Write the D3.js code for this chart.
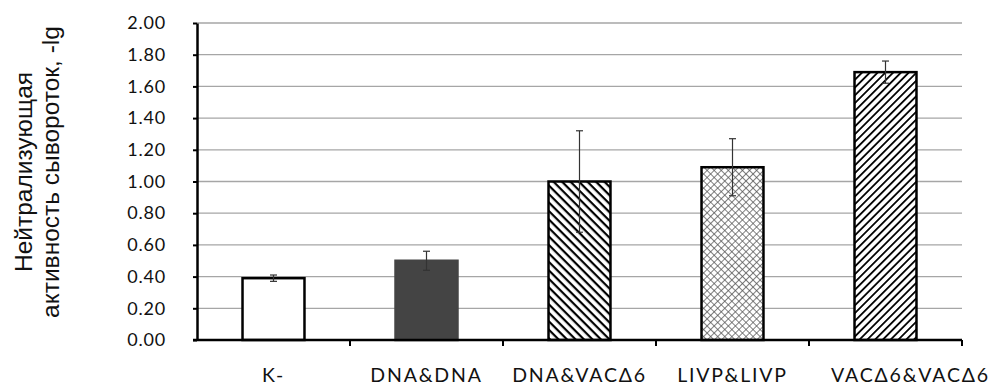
<!DOCTYPE html>
<html>
<head>
<meta charset="utf-8">
<script src="https://cdn.jsdelivr.net/npm/d3@7"></script>
<style>
  body { margin: 0; background: #fff; }
  svg { display: block; }
</style>
</head>
<body>
<svg width="996" height="385"></svg>
<script>
// data
var categories = ["K-", "DNA&DNA", "DNA&VACΔ6", "LIVP&LIVP", "VACΔ6&VACΔ6"];
var means = [0.39, 0.50, 1.00, 1.09, 1.69];
var errors = [0.02, 0.06, 0.32, 0.18, 0.07];
var yTicks = [0, 0.2, 0.4, 0.6, 0.8, 1.0, 1.2, 1.4, 1.6, 1.8, 2.0];
var fills = ["white", "#444444", "url(#hatchBack)", "url(#cross)", "url(#hatchFwd)"];

var svg = d3.select("svg");

// plot area
var x0 = 197, x1 = 962, yTop = 23, yBottom = 340;

var x = d3.scaleBand()
    .domain(categories)
    .range([x0, x1])
    .paddingInner(0.595)
    .paddingOuter(0.2975);

var y = d3.scaleLinear()
    .domain([0, 2])
    .range([yBottom, yTop]);

//patterns
var defs = svg.append("defs");

var pb = defs.append("pattern")
    .attr("id", "hatchBack")
    .attr("patternUnits", "userSpaceOnUse")
    .attr("width", 6).attr("height", 6)
    .attr("patternTransform", "rotate(45)");
pb.append("rect").attr("width", 6).attr("height", 6).attr("fill", "white");
pb.append("line").attr("x1", 0).attr("y1", 0).attr("x2", 6).attr("y2", 0)
    .attr("stroke", "black").attr("stroke-width", 4.4);

var pf = defs.append("pattern")
    .attr("id", "hatchFwd")
    .attr("patternUnits", "userSpaceOnUse")
    .attr("width", 5.5).attr("height", 5.5)
    .attr("patternTransform", "rotate(-45)");
pf.append("rect").attr("width", 5.5).attr("height", 5.5).attr("fill", "white");
pf.append("line").attr("x1", 0).attr("y1", 0).attr("x2", 5.5).attr("y2", 0)
    .attr("stroke", "black").attr("stroke-width", 3.6);

var pc = defs.append("pattern")
    .attr("id", "cross")
    .attr("patternUnits", "userSpaceOnUse")
    .attr("width", 5).attr("height", 5)
    .attr("patternTransform", "rotate(45)");
pc.append("rect").attr("width", 5).attr("height", 5).attr("fill", "white");
pc.append("line").attr("x1", 0).attr("y1", 0).attr("x2", 5).attr("y2", 0)
    .attr("stroke", "#555").attr("stroke-width", 1.5);
pc.append("line").attr("x1", 0).attr("y1", 0).attr("x2", 0).attr("y2", 5)
    .attr("stroke", "#555").attr("stroke-width", 1.5);

// gridlines
svg.append("g")
    .selectAll("line")
    .data(yTicks.slice(1))
    .enter().append("line")
    .attr("x1", x0).attr("x2", x1)
    .attr("y1", function (d) { return y(d); })
    .attr("y2", function (d) { return y(d); })
    .attr("stroke", "#a6a6a6")
    .attr("stroke-width", 1.3);

// bars
svg.append("g")
    .selectAll("rect")
    .data(categories)
    .enter().append("rect")
    .attr("x", function (d) { return x(d); })
    .attr("y", function (d, i) { return y(means[i]); })
    .attr("width", x.bandwidth())
    .attr("height", function (d, i) { return yBottom - y(means[i]); })
    .attr("fill", function (d, i) { return fills[i]; })
    .attr("stroke", function (d, i) { return i == 1 ? "#444444" : "black"; })
    .attr("stroke-width", 2.5);

// error bars
var eb = svg.append("g")
    .attr("stroke", "#333")
    .attr("stroke-width", 1.2);
categories.forEach(function (c, i) {
    var cx = x(c) + x.bandwidth() / 2;
    eb.append("line").attr("x1", cx).attr("x2", cx)
        .attr("y1", y(means[i] + errors[i])).attr("y2", y(means[i] - errors[i]));
    eb.append("line").attr("x1", cx - 3.5).attr("x2", cx + 3.5)
        .attr("y1", y(means[i] + errors[i])).attr("y2", y(means[i] + errors[i]));
    eb.append("line").attr("x1", cx - 3.5).attr("x2", cx + 3.5)
        .attr("y1", y(means[i] - errors[i])).attr("y2", y(means[i] - errors[i]));
});

// y axis
var yAxis = svg.append("g")
    .attr("transform", "translate(" + x0 + ",0)")
    .call(d3.axisLeft(y).tickValues(yTicks).tickFormat(d3.format(".2f")).tickSize(4).tickSizeOuter(0));
yAxis.select(".domain").attr("stroke", "black").attr("stroke-width", 2.5);
yAxis.selectAll(".tick line").attr("stroke", "black").attr("stroke-width", 2);
yAxis.selectAll(".tick text")
    .attr("x", -31)
    .style("font-family", "Lato, sans-serif")
    .style("font-size", "18px")
    .style("letter-spacing", "0.8px")
    .attr("fill", "#111");

// x axis
svg.append("line")
    .attr("x1", x0 - 4).attr("x2", x1)
    .attr("y1", yBottom).attr("y2", yBottom)
    .attr("stroke", "black").attr("stroke-width", 2.5);
var bounds = d3.range(categories.length + 1).map(function (i) { return x0 + i * x.step(); });
svg.append("g")
    .selectAll("line")
    .data(bounds.slice(1))
    .enter().append("line")
    .attr("x1", function (d) { return d; })
    .attr("x2", function (d) { return d; })
    .attr("y1", yBottom).attr("y2", yBottom + 6)
    .attr("stroke", "black").attr("stroke-width", 2);

svg.append("g")
    .selectAll("text")
    .data(categories)
    .enter().append("text")
    .attr("x", function (d) { return x(d) + x.bandwidth() / 2; })
    .attr("dx", function (d, i) { return i == categories.length - 1 ? 25 : 0; })
    .attr("y", 382)
    .attr("text-anchor", "middle")
    .style("font-family", "Lato, sans-serif")
    .style("font-size", "19.5px")
    .style("letter-spacing", "1.8px")
    .attr("fill", "#111")
    .text(function (d) { return d; });

// y title
var title = svg.append("text")
    .attr("transform", "translate(36,172) rotate(-90)")
    .attr("text-anchor", "middle")
    .style("font-family", "'Liberation Sans', Arial, sans-serif")
    .style("font-size", "24.5px")
    .attr("fill", "#111");
title.append("tspan").attr("x", 0).attr("dy", -4).text("Нейтрализующая");
title.append("tspan").attr("x", 0).attr("dy", 27).text("активность сывороток, -lg");
</script>
</body>
</html>
